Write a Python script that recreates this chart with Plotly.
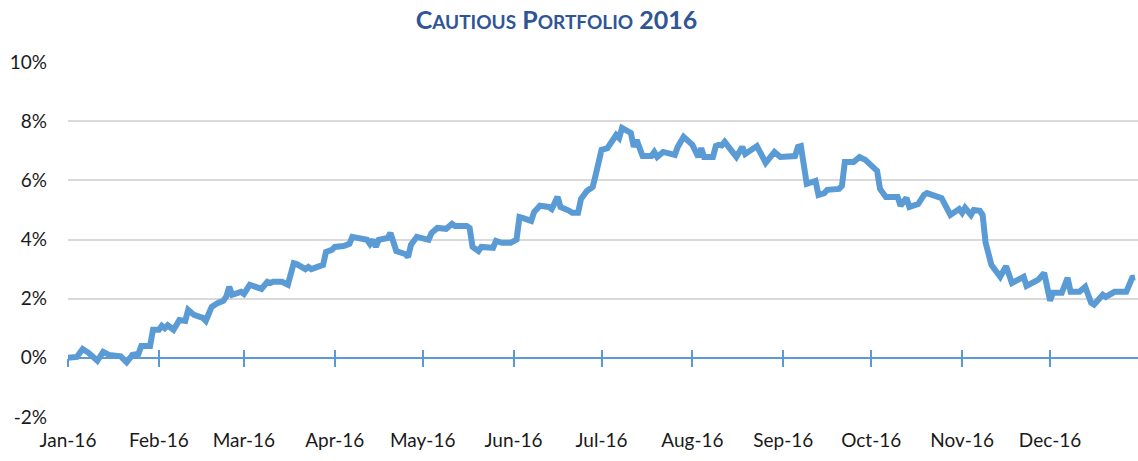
import plotly.graph_objects as go

dates = [
    "2016-01-01", "2016-01-04", "2016-01-06", "2016-01-08", "2016-01-11", "2016-01-13", "2016-01-15",
    "2016-01-19", "2016-01-21", "2016-01-23", "2016-01-25", "2016-01-26", "2016-01-29", "2016-01-30",
    "2016-02-01", "2016-02-02", "2016-02-03", "2016-02-04", "2016-02-06", "2016-02-08", "2016-02-10",
    "2016-02-11", "2016-02-13", "2016-02-16", "2016-02-17", "2016-02-19", "2016-02-21", "2016-02-23",
    "2016-02-24", "2016-02-25", "2016-02-26", "2016-02-29", "2016-03-01", "2016-03-03", "2016-03-05",
    "2016-03-07", "2016-03-09", "2016-03-10", "2016-03-11", "2016-03-14", "2016-03-16", "2016-03-18",
    "2016-03-19", "2016-03-22", "2016-03-23", "2016-03-24", "2016-03-28", "2016-03-29", "2016-03-31",
    "2016-04-01", "2016-04-04", "2016-04-06", "2016-04-07", "2016-04-12", "2016-04-13", "2016-04-14",
    "2016-04-15", "2016-04-16", "2016-04-19", "2016-04-20", "2016-04-22", "2016-04-25", "2016-04-26",
    "2016-04-27", "2016-04-29", "2016-05-03", "2016-05-04", "2016-05-05", "2016-05-06", "2016-05-09",
    "2016-05-11", "2016-05-12", "2016-05-16", "2016-05-17", "2016-05-18", "2016-05-20", "2016-05-21",
    "2016-05-25", "2016-05-26", "2016-05-28", "2016-05-31", "2016-06-02", "2016-06-03", "2016-06-04",
    "2016-06-07", "2016-06-08", "2016-06-10", "2016-06-13", "2016-06-14", "2016-06-16", "2016-06-17",
    "2016-06-20", "2016-06-21", "2016-06-23", "2016-06-24", "2016-06-26", "2016-06-28", "2016-06-29",
    "2016-07-01", "2016-07-03", "2016-07-05", "2016-07-06", "2016-07-07", "2016-07-08", "2016-07-11",
    "2016-07-12", "2016-07-13", "2016-07-15", "2016-07-18", "2016-07-19", "2016-07-20", "2016-07-22",
    "2016-07-26", "2016-07-27", "2016-07-29", "2016-08-01", "2016-08-03", "2016-08-04", "2016-08-05",
    "2016-08-08", "2016-08-09", "2016-08-10", "2016-08-11", "2016-08-12", "2016-08-16", "2016-08-18",
    "2016-08-19", "2016-08-23", "2016-08-26", "2016-08-29", "2016-08-31", "2016-09-05", "2016-09-06",
    "2016-09-07", "2016-09-09", "2016-09-12", "2016-09-13", "2016-09-15", "2016-09-16", "2016-09-20",
    "2016-09-21", "2016-09-22", "2016-09-25", "2016-09-27", "2016-09-29", "2016-10-03", "2016-10-04",
    "2016-10-06", "2016-10-10", "2016-10-11", "2016-10-13", "2016-10-14", "2016-10-17", "2016-10-19",
    "2016-10-20", "2016-10-21", "2016-10-24", "2016-10-25", "2016-10-28", "2016-10-31", "2016-11-01",
    "2016-11-02", "2016-11-04", "2016-11-05", "2016-11-07", "2016-11-08", "2016-11-09", "2016-11-11",
    "2016-11-14", "2016-11-16", "2016-11-18", "2016-11-22", "2016-11-23", "2016-11-27", "2016-11-29",
    "2016-12-01", "2016-12-02", "2016-12-05", "2016-12-07", "2016-12-08", "2016-12-11", "2016-12-13",
    "2016-12-15", "2016-12-16", "2016-12-19", "2016-12-20", "2016-12-23", "2016-12-27", "2016-12-29",
    "2016-12-30",
]

returns_pct = [
    0.00, 0.03, 0.30, 0.17, -0.10, 0.20, 0.10,
    0.05, -0.15, 0.10, 0.13, 0.40, 0.40, 0.95,
    0.95, 1.08, 1.00, 1.10, 0.95, 1.28, 1.25,
    1.62, 1.45, 1.35, 1.25, 1.72, 1.85, 1.93,
    2.07, 2.40, 2.13, 2.23, 2.16, 2.47, 2.40,
    2.33, 2.57, 2.53, 2.57, 2.57, 2.47, 3.20,
    3.17, 3.00, 3.07, 3.00, 3.14, 3.58, 3.65,
    3.75, 3.78, 3.85, 4.09, 3.99, 3.85, 3.99,
    3.75, 3.99, 4.05, 4.22, 3.61, 3.51, 3.41,
    3.82, 4.09, 3.99, 4.22, 4.29, 4.39, 4.36,
    4.53, 4.46, 4.46, 4.39, 3.75, 3.61, 3.75,
    3.72, 3.95, 3.89, 3.89, 4.00, 4.76, 4.73,
    4.63, 4.93, 5.14, 5.10, 5.03, 5.44, 5.10,
    4.97, 4.90, 4.90, 5.37, 5.64, 5.78, 6.18,
    7.03, 7.09, 7.43, 7.53, 7.43, 7.77, 7.60,
    7.13, 7.36, 6.82, 6.82, 6.96, 6.79, 6.96,
    6.86, 7.13, 7.47, 7.20, 6.79, 7.09, 6.79,
    6.79, 7.16, 7.20, 7.18, 7.30, 6.79, 7.13,
    6.89, 7.16, 6.59, 6.96, 6.79, 6.82, 7.13,
    7.16, 5.88, 5.98, 5.51, 5.57, 5.68, 5.71,
    5.81, 6.62, 6.62, 6.79, 6.69, 6.32, 5.71,
    5.44, 5.44, 5.14, 5.41, 5.10, 5.20, 5.51,
    5.57, 5.54, 5.40, 5.40, 4.83, 5.03, 4.90,
    5.07, 4.83, 5.00, 4.97, 4.83, 3.90, 3.14,
    2.74, 3.10, 2.53, 2.74, 2.43, 2.64, 2.87,
    1.93, 2.20, 2.20, 2.70, 2.23, 2.23, 2.40,
    1.86, 1.80, 2.13, 2.06, 2.23, 2.23, 2.70,
    2.72,
]

month_ticks = ["2016-01-01", "2016-02-01", "2016-03-01", "2016-04-01", "2016-05-01", "2016-06-01",
               "2016-07-01", "2016-08-01", "2016-09-01", "2016-10-01", "2016-11-01", "2016-12-01"]
month_labels = ["Jan-16", "Feb-16", "Mar-16", "Apr-16", "May-16", "Jun-16",
                "Jul-16", "Aug-16", "Sep-16", "Oct-16", "Nov-16", "Dec-16"]

y_ticks = [-2, 0, 2, 4, 6, 8, 10]
y_labels = ["-2%", "0%", "2%", "4%", "6%", "8%", "10%"]

x_range = ["2016-01-01", "2016-12-31"]
y_range = [-2, 10]

BLUE = "#5B9BD5"
FONT = "Lato"
TXT = "#1a1a1a"

fig = go.Figure()

# invisible carriers so the zero-line axes (x2 / x3) get drawn
for ax in ("x2", "x3"):
    fig.add_trace(go.Scatter(
        x=dates, y=returns_pct, xaxis=ax, yaxis="y", mode="lines",
        line=dict(color="rgba(0,0,0,0)", width=0), showlegend=False, hoverinfo="skip",
    ))

fig.add_trace(go.Scatter(
    x=dates, y=returns_pct, mode="lines",
    line=dict(color=BLUE, width=6, shape="linear"),
    showlegend=False, hoverinfo="x+y",
))

zero_pos = (0 - y_range[0]) / (y_range[1] - y_range[0])

zero_axis = dict(
    type="date", range=x_range, overlaying="x", anchor="free", position=zero_pos,
    tickvals=month_ticks, showticklabels=False,
    showgrid=False, zeroline=False,
    ticklen=8, tickwidth=1.5, tickcolor=BLUE,
)

fig.update_layout(
    width=1138, height=461,
    margin=dict(l=68, r=0, t=62, b=44),
    paper_bgcolor="white", plot_bgcolor="white",
    title=dict(
        text="C<span style='font-size:19px'>AUTIOUS</span> P<span style='font-size:19px'>ORTFOLIO</span> 2016",
        x=0.489, xanchor="center", y=0.957, yanchor="middle",
        font=dict(family=FONT, size=25, color="#2F5597", weight="bold"),
    ),
    font=dict(family=FONT, size=19, color=TXT),
    xaxis=dict(
        type="date", range=x_range,
        tickvals=month_ticks, ticktext=month_labels,
        showgrid=False, zeroline=False, showline=False, ticks="",
        ticklabelstandoff=10,
        tickfont=dict(family=FONT, size=19, color=TXT),
    ),
    xaxis2=dict(zero_axis, showline=True, linecolor=BLUE, linewidth=2, ticks="outside"),
    xaxis3=dict(zero_axis, showline=False, ticks="inside"),
    yaxis=dict(
        range=y_range, tickvals=y_ticks, ticktext=y_labels,
        showgrid=True, gridcolor="#D9D9D9", gridwidth=1.5,
        zeroline=False, showline=False, ticks="",
        ticklabelstandoff=20,
        tickfont=dict(family=FONT, size=19, color=TXT),
    ),
)

fig.write_html("out.html", config={"displayModeBar": False},
               post_script="document.body.style.margin='0';")
